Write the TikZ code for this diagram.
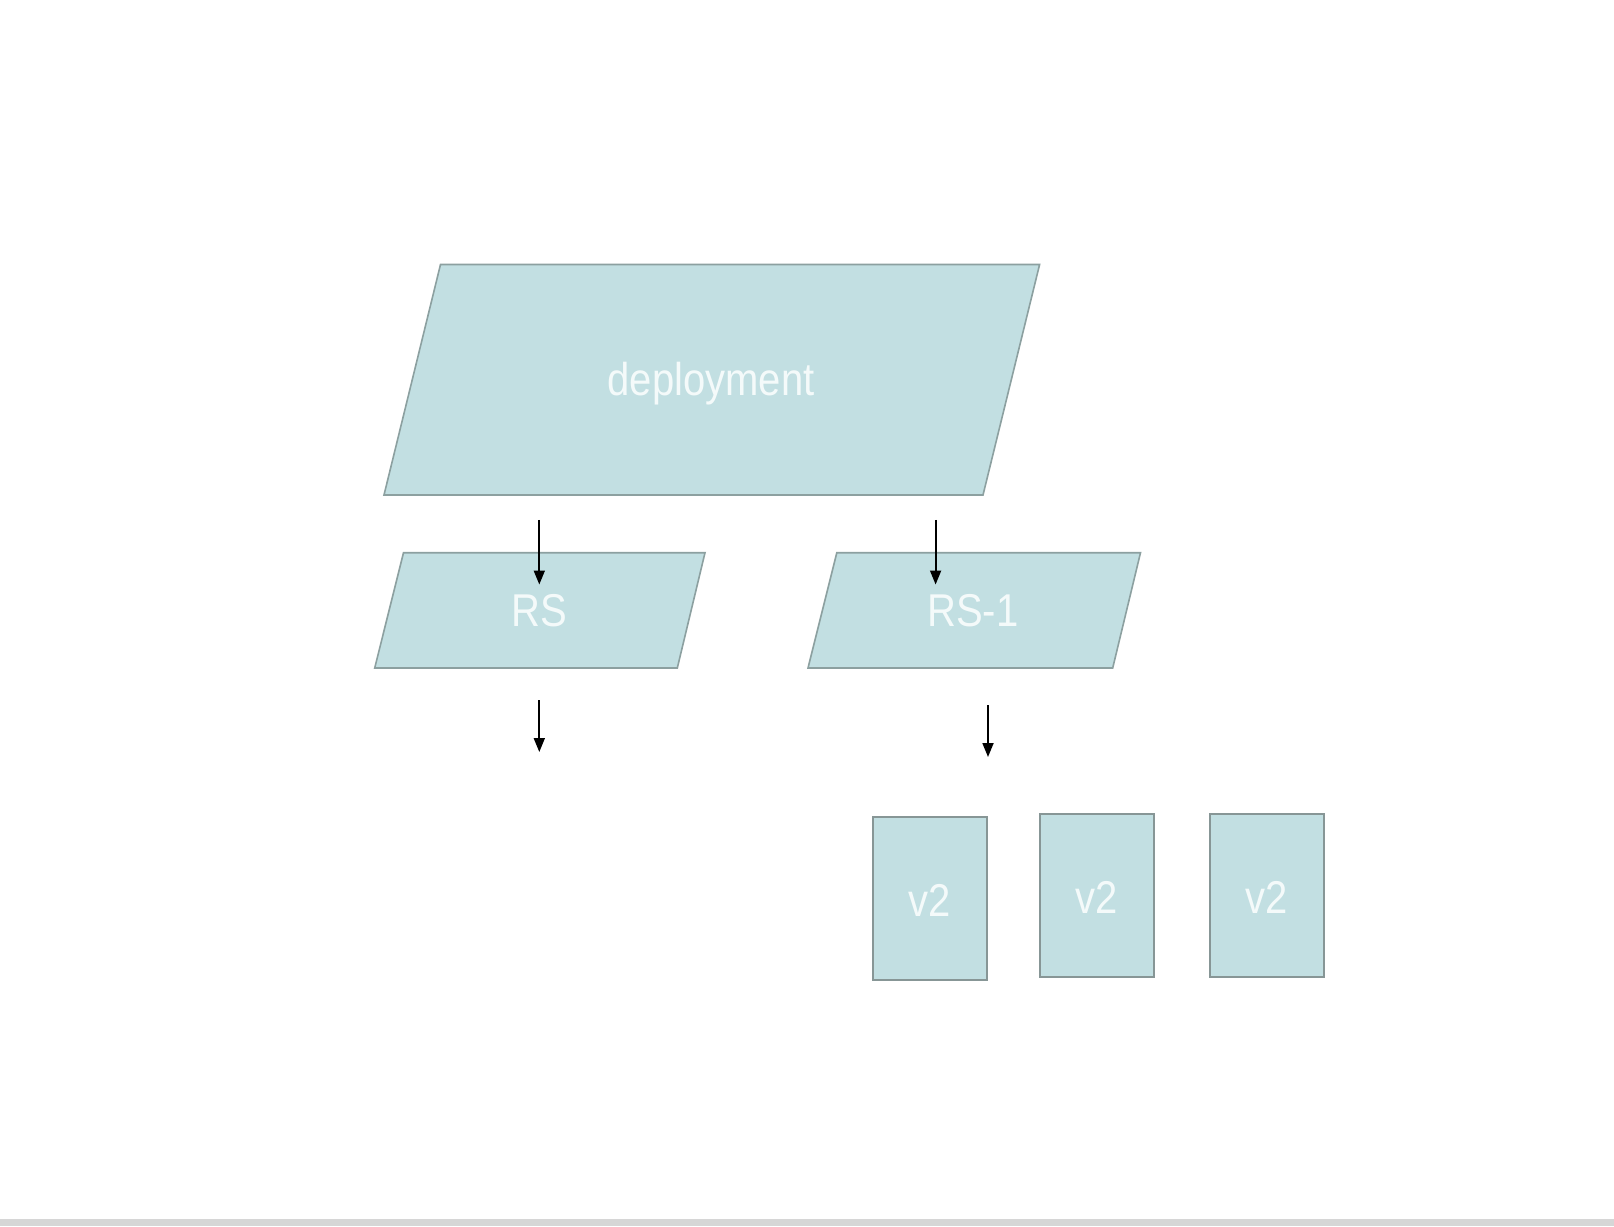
\documentclass[tikz,border=0pt]{standalone}
\usepackage{fontspec}
\newfontfamily\labfont[FakeStretch=0.87]{Liberation Sans}
\usetikzlibrary{arrows.meta}
\definecolor{boxfill}{RGB}{194,223,226}
\definecolor{boxline}{RGB}{140,160,160}
\definecolor{podline}{RGB}{135,150,150}
\definecolor{labtext}{RGB}{244,250,250}
\definecolor{bandgrey}{RGB}{214,214,214}
\tikzset{
  shapebox/.style={fill=boxfill,draw=boxline,line width=1.6pt,line join=miter},
  lab/.style={font=\labfont\fontsize{46}{52}\selectfont,text=labtext,inner sep=0pt},
  podbox/.style={fill=boxfill,draw=podline,line width=2pt,minimum width=114pt,minimum height=163pt,inner sep=0pt},
  conn/.style={line width=1.8pt,-{Triangle[length=14pt,width=11pt]}}
}
\begin{document}
\begin{tikzpicture}[x=1pt,y=-1pt]
\useasboundingbox (0,0) rectangle (1614,1226);
\fill[white] (0,0) rectangle (1614,1226);
\fill[bandgrey] (0,1219) rectangle (1614,1226);
% deployment
\draw[shapebox] (440.5,264.5) -- (1039.6,264.5) -- (983,495) -- (384,495) -- cycle;
\node[lab] (dep) at (711,384) {deployment};
% RS
\draw[shapebox] (403.5,552.7) -- (705,552.7) -- (677.3,668) -- (374.7,668) -- cycle;
\node[lab] (rs) at (539.5,611) {RS};
% RS-1
\draw[shapebox] (836.8,552.7) -- (1140.5,552.7) -- (1112.7,668) -- (808,668) -- cycle;
\node[lab] (rs1) at (972.7,611) {RS-1};
% pods
\node[podbox] (p1) at (930,898.6) {};
\node[podbox] (p2) at (1096.7,895.5) {};
\node[podbox] (p3) at (1266.5,895.5) {};
\node[lab] (t1) at ([yshift=-2]p1.center) {v2};
\node[lab] (t2) at ([yshift=-2]p2.center) {v2};
\node[lab] (t3) at ([yshift=-2]p3.center) {v2};
% arrow ends
\coordinate (a1s) at (539.3,519.8);
\coordinate (a1e) at (539.3,584.5);
\coordinate (a2s) at (935.6,519.8);
\coordinate (a2e) at (935.6,584.5);
\coordinate (a3s) at (539.3,700);
\coordinate (a3e) at (539.3,752);
\coordinate (a4s) at (988,705);
\coordinate (a4e) at (988,757);
\draw[conn] (a1s) -- (a1e);
\draw[conn] (a2s) -- (a2e);
\draw[conn] (a3s) -- (a3e);
\draw[conn] (a4s) -- (a4e);
\end{tikzpicture}
\end{document}
